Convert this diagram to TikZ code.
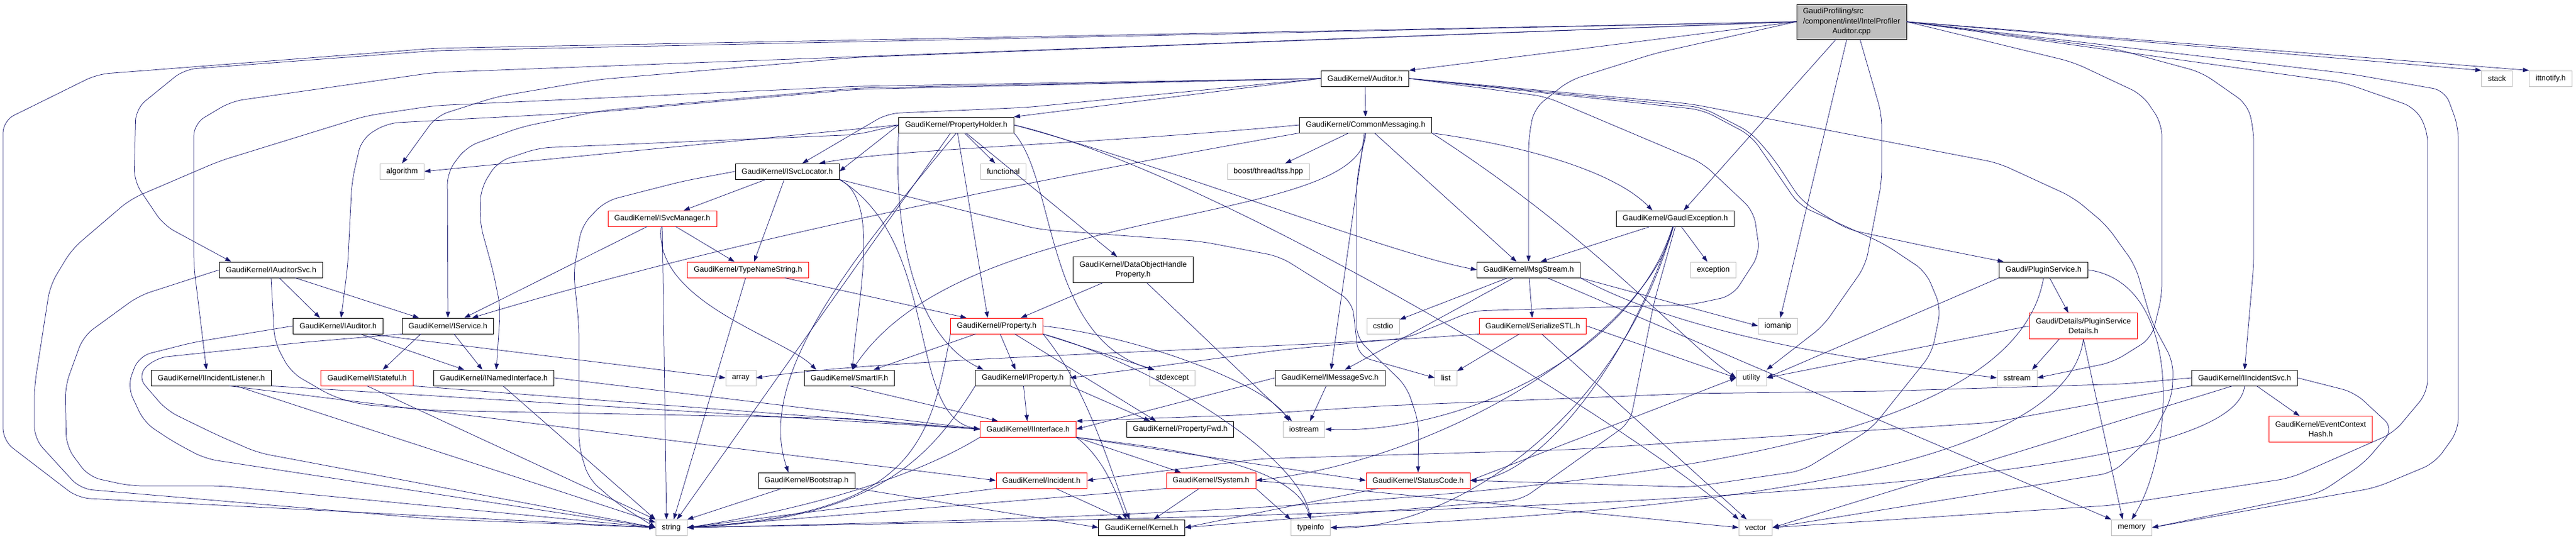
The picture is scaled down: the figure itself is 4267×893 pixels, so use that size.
\documentclass[tikz,border=0pt]{standalone}
\usepackage{fontspec}
\setmainfont{Liberation Sans}
\usepackage{tikz}
\usetikzlibrary{arrows.meta}
\definecolor{edgeblue}{HTML}{191970}
\definecolor{sysgray}{HTML}{BFBFBF}
\tikzset{
	hdr/.style={draw=black, line width=0.8pt, inner xsep=10.5pt, inner ysep=0pt, minimum height=26pt, font=\fontsize{12.7}{16.3}\selectfont, align=center},
	redhdr/.style={hdr, draw=red},
	syshdr/.style={hdr, draw=sysgray},
	roothdr/.style={hdr, fill=sysgray, minimum height=58pt, inner ysep=1pt},
	twoline/.style={minimum height=43pt},
	incl/.style={draw=edgeblue, line width=0.75pt, -{Triangle[length=10pt,width=7pt]}},
	detour/.style={incl, rounded corners=20pt},
}
\begin{document}
\begin{tikzpicture}[x=1pt,y=-1pt]
		\useasboundingbox (0,0) rectangle (4267,893);
		\node[roothdr](root) at (3067,36) {\begin{tabular}{@{}l@{}}GaudiProfiling/src\\/component/intel/IntelProfiler\\\multicolumn{1}{@{}c@{}}{Auditor.cpp}\end{tabular}};
		\node[hdr](auditor) at (2261,130) {GaudiKernel/Auditor.h};
		\node[syshdr](stack) at (4136,130) {stack};
		\node[syshdr](ittnotify) at (4225,130) {ittnotify.h};
		\node[hdr](propholder) at (1584,207) {GaudiKernel/PropertyHolder.h};
		\node[hdr](commonmsg) at (2262,207) {GaudiKernel/CommonMessaging.h};
		\node[syshdr](algorithm) at (666,284) {algorithm};
		\node[hdr](isvcloc) at (1304,284) {GaudiKernel/ISvcLocator.h};
		\node[syshdr](functional) at (1662,284) {functional};
		\node[syshdr](tss) at (2101,284) {boost/thread/tss.hpp};
		\node[redhdr](isvcman) at (1097,362) {GaudiKernel/ISvcManager.h};
		\node[hdr](gexc) at (2775,362) {GaudiKernel/GaudiException.h};
		\node[hdr](iauditorsvc) at (449,447) {GaudiKernel/IAuditorSvc.h};
		\node[redhdr](typename) at (1239,447) {GaudiKernel/TypeNameString.h};
		\node[hdr,twoline](dohp) at (1877,447) {GaudiKernel/DataObjectHandle\\Property.h};
		\node[hdr](msgstream) at (2532,447) {GaudiKernel/MsgStream.h};
		\node[syshdr](exception) at (2838,447) {exception};
		\node[hdr](pluginsvc) at (3385,447) {Gaudi/PluginService.h};
		\node[hdr](iauditor) at (560,540) {GaudiKernel/IAuditor.h};
		\node[hdr](iservice) at (742,540) {GaudiKernel/IService.h};
		\node[redhdr](property) at (1651,540) {GaudiKernel/Property.h};
		\node[syshdr](cstdio) at (2291,540) {cstdio};
		\node[redhdr](serialstl) at (2539,540) {GaudiKernel/SerializeSTL.h};
		\node[syshdr](iomanip) at (2945,540) {iomanip};
		\node[redhdr,twoline](psdetails) at (3451,540) {Gaudi/Details/PluginService\\Details.h};
		\node[hdr](ilistener) at (350,626) {GaudiKernel/IIncidentListener.h};
		\node[redhdr](istateful) at (608,626) {GaudiKernel/IStateful.h};
		\node[hdr](inamed) at (818,626) {GaudiKernel/INamedInterface.h};
		\node[syshdr](array) at (1227,626) {array};
		\node[hdr](smartif) at (1407,626) {GaudiKernel/SmartIF.h};
		\node[hdr](iproperty) at (1694,626) {GaudiKernel/IProperty.h};
		\node[syshdr](stdexcept) at (1942,626) {stdexcept};
		\node[hdr](imsgsvc) at (2203,626) {GaudiKernel/IMessageSvc.h};
		\node[syshdr](list) at (2395,626) {list};
		\node[syshdr](utility) at (2901,626) {utility};
		\node[syshdr](sstream) at (3341,626) {sstream};
		\node[hdr](iincsvc) at (3718,626) {GaudiKernel/IIncidentSvc.h};
		\node[redhdr](iinterface) at (1703,711) {GaudiKernel/IInterface.h};
		\node[hdr](propfwd) at (1955,711) {GaudiKernel/PropertyFwd.h};
		\node[syshdr](iostream) at (2160,711) {iostream};
		\node[redhdr,twoline](evhash) at (3844,711) {GaudiKernel/EventContext\\Hash.h};
		\node[hdr](bootstrap) at (1336,796) {GaudiKernel/Bootstrap.h};
		\node[redhdr](incident) at (1725,796) {GaudiKernel/Incident.h};
		\node[redhdr](system) at (2006,796) {GaudiKernel/System.h};
		\node[redhdr](statuscode) at (2349,796) {GaudiKernel/StatusCode.h};
		\node[syshdr](string) at (1112,874) {string};
		\node[hdr](kernel) at (1891,874) {GaudiKernel/Kernel.h};
		\node[syshdr](typeinfo) at (2171,874) {typeinfo};
		\node[syshdr](vector) at (2908,874) {vector};
		\node[syshdr](memory) at (3531,874) {memory};
		
		\draw[incl] (root.west)--(auditor.north east);
		\draw[detour] (root.west)--(720,80)--(161,123)--(5,200)--(5,730)--(129,825)--(string.west);
		\draw[detour] (root.west)--(720,84)--(305,115)--(225,180)--(222,300)--(271,373)--([xshift=-66pt]iauditorsvc.north);
		\draw[detour] (root.west)--(720,120)--(383,168)--(321,205)--(321,440)--([xshift=-8pt]ilistener.north);
		\draw[detour] (root.west)--(1420,95)--(989,132)--(824,160)--(723,192)--(algorithm.north);
		\draw[detour] (root.west)--(2743,88)--(2600,133)--(2541,180)--(2532,230)--(msgstream.north);
		\draw[incl] ([xshift=-26pt]root.south)--([xshift=14pt]gexc.north);
		\draw[incl] ([xshift=-8pt]root.south)--([xshift=4pt]iomanip.north);
		\draw[detour] ([xshift=14pt]root.south)--(3117,190)--(3117,300)--(3090,440)--(3020,540)--(utility.north east);
		\draw[incl] (root.east)--(stack.north west);
		\draw[incl] (root.east)--(ittnotify.north west);
		\draw[detour] (root.east)--(3891,122)--(4050,150)--(4072,210)--(4072,713)--(4033,767)--(3935,808)--(memory.east);
		\draw[detour] (root.east)--(3882,137)--(4000,178)--(4021,215)--(4021,650)--(3965,717)--(3794,792)--(3500,837)--(vector.east);
		\draw[detour] (root.east)--(3500,80)--(3647,120)--(3723,173)--(3733,215)--(3733,440)--(iincsvc.north);
		\draw[detour] (root.east)--(3319,75)--(3434,103)--(3549,157)--(3581,205)--(3581,490)--(3564,560)--(3500,600)--(sstream.east);
		
		\draw[incl] (auditor)--(commonmsg);
		\draw[incl] (auditor.west)--(propholder.north east);
		\draw[detour] (auditor.west)--(1700,178)--(1470,188)--([xshift=25pt]isvcloc.north);
		\draw[detour] (auditor.west)--(1420,148)--(998,185)--(641,204)--(599,230)--(583,300)--(576,440)--([xshift=5pt]iauditor.north);
		\draw[detour] (auditor.west)--(1420,146)--(998,183)--(865,210)--(773,243)--(741,285)--(iservice.north);
		\draw[detour] (auditor.west)--(1420,143)--(720,175)--(606,192)--(363,267)--(216,330)--(119,413)--(83,473)--(57,640)--(57,727)--(133,810)--(720,860)--(string.west);
		\draw[detour] (auditor.east)--(2820,178)--(2901,220)--(2938,263)--(2984,333)--(3060,380)--(3200,410)--([xshift=-66pt]pluginsvc.north);
		\draw[detour] (auditor.east)--(2820,182)--(2901,225)--(2980,340)--(3121,404)--(3190,450)--(3215,510)--(3200,585)--(3100,710)--(2985,780)--(2800,807)--(statuscode.east);
		\draw[detour] (auditor.east)--(2800,172)--(3310,270)--(3434,327)--(3489,373)--(3537,440)--(3564,533)--(3600,600)--(3598,657)--(3564,723)--(3500,783)--(vector.east);
		\draw[detour] (auditor.east)--(2560,160)--(2820,270)--(2905,350)--(2915,420)--(2870,490)--(2800,505)--(2440,515)--(2330,560)--(2120,580)--(iproperty.east);
		
		\draw[incl] (commonmsg)--(tss);
		\draw[incl] (commonmsg)--([xshift=-20pt]msgstream.north);
		\draw[incl] (commonmsg.south east) .. controls (2550,245) and (2680,290) .. ([xshift=-38pt]gexc.north);
		\draw[incl] (commonmsg.west) .. controls (1800,240) and (1500,245) .. ([xshift=53pt]isvcloc.north);
		\draw[incl] (commonmsg.south west) .. controls (1700,300) and (1200,400) .. ([xshift=40pt]iservice.north);
		\draw[incl] (commonmsg)--(imsgsvc);
		\draw[incl] (commonmsg.south) .. controls (2260,380) and (1600,330) .. ([xshift=5pt]smartif.north);
		\draw[detour] (commonmsg.south)--(2247,300)--(2247,560)--(2330,640)--(2350,700)--(statuscode.north);
		\draw[incl] (commonmsg.south east) .. controls (2650,400) and (2780,560) .. (utility.west);
		
		\draw[incl] (propholder.west)--(algorithm.east);
		\draw[incl] (propholder)--(functional);
		\draw[incl] (propholder.west)--(isvcloc.east);
		\draw[detour] (propholder.west)--(1420,223)--(893,245)--(824,268)--(796,313)--(795,370)--(817,450)--(829,510)--([xshift=4pt]inamed.north);
		\draw[incl] (propholder)--(dohp);
		\draw[incl] (propholder.south) .. controls (1420,420) and (1250,620) .. ([xshift=-30pt]bootstrap.north);
		\draw[incl] (propholder)--([xshift=-15pt]property.north);
		\draw[incl] (propholder.south west) .. controls (1480,400) and (1520,560) .. ([xshift=-65pt]iproperty.north);
		\draw[incl] (propholder.south east) .. controls (1750,300) and (1730,560) .. ([xshift=-30pt]stdexcept.north);
		\draw[incl] (propholder)--(string);
		\draw[incl] (propholder.east) .. controls (1950,280) and (2300,420) .. (msgstream.west);
		\draw[incl] (propholder.east) .. controls (2000,280) and (2700,700) .. (vector.north west);
		
		\draw[incl] (isvcloc)--(isvcman);
		\draw[incl] (isvcloc)--([xshift=10pt]typename.north);
		\draw[detour] (isvcloc.west)--(1132,300)--(1003,333)--(964,373)--(950,450)--(959,540)--(959,740)--(975,793)--(1021,833)--(string.west);
		\draw[incl] (isvcloc.south east) .. controls (1460,330) and (1420,500) .. ([xshift=5pt]smartif.north);
		\draw[incl] (isvcloc.south east) .. controls (1560,400) and (1500,690) .. (iinterface.west);
		\draw[detour] (isvcloc.south east)--(1721,380)--(1990,400)--(2120,425)--(2240,500)--(2250,590)--(list.west);
		
		\draw[incl] ([xshift=-25pt]isvcman.south)--([xshift=27pt]iservice.north);
		\draw[incl] (isvcman)--(typename);
		\draw[incl] (isvcman.south)--([xshift=-8pt]string.north);
		\draw[incl] (isvcman) .. controls (1080,500) and (1300,560) .. ([xshift=-55pt]smartif.north);
		\draw[incl] (typename)--(string);
		\draw[incl] (typename)--([xshift=-50pt]property.north);
		\draw[incl] (dohp)--([xshift=40pt]property.north);
		\draw[incl] (dohp)--([xshift=-20pt]iostream.north);
		
		\draw[incl] (gexc)--([xshift=20pt]msgstream.north);
		\draw[incl] (gexc)--(exception);
		\draw[incl] (gexc) .. controls (2730,550) and (2400,760) .. (system.east);
		\draw[detour] (gexc.south)--(2740,500)--(2700,700)--(2520,828)--(kernel.east);
		\draw[incl] (gexc) .. controls (2700,600) and (2550,790) .. (statuscode.east);
		\draw[incl] (gexc) .. controls (2700,600) and (2400,720) .. (iostream.east);
		\draw[incl] (gexc) .. controls (2680,700) and (2400,880) .. (typeinfo.east);
		
		\draw[incl] (msgstream)--(imsgsvc);
		\draw[incl] (msgstream)--(serialstl);
		\draw[incl] (msgstream)--(cstdio);
		\draw[incl] (msgstream.south east)--(iomanip.west);
		\draw[incl] (msgstream.south east) .. controls (2800,560) and (3100,600) .. (sstream.west);
		\draw[incl] (msgstream)--(memory.north west);
		\draw[incl] (serialstl)--(list);
		\draw[incl] (serialstl.south west) .. controls (2100,580) and (1500,590) .. (array.east);
		\draw[incl] (serialstl.east)--(utility.west);
		\draw[incl] (serialstl)--(vector);
		\draw[incl] (imsgsvc)--([xshift=10pt]iostream.north);
		\draw[incl] (imsgsvc.west)--(iinterface.east);
		
		\draw[incl] (iauditorsvc)--([xshift=-30pt]iauditor.north);
		\draw[incl] ([xshift=40pt]iauditorsvc.south)--([xshift=-48pt]iservice.north);
		\draw[detour] (iauditorsvc.west)--(230,490)--(138,557)--(108,640)--(110,740)--(147,790)--(216,805)--(367,805)--(string.west);
		\draw[detour] (iauditorsvc.south)--(455,567)--(482,617)--(551,657)--(597,670)--(720,680)--(1400,693)--(iinterface.west);
		\draw[incl] ([xshift=37pt]iauditor.south)--([xshift=-49pt]inamed.north);
		\draw[detour] (iauditor.west)--(321,567)--(230,590)--(211,640)--(239,700)--(289,733)--(340,760)--(string.west);
		\draw[incl] ([xshift=50pt]iauditor.south)--(array.west);
		\draw[incl] ([xshift=-45pt]iservice.south)--([xshift=26pt]istateful.north);
		\draw[incl] ([xshift=10pt]iservice.south)--([xshift=-19pt]inamed.north);
		\draw[detour] (iservice.south west)--(505,567)--(257,593)--(227,623)--(276,680)--(358,720)--(427,750)--(string.west);
		\draw[incl] ([xshift=30pt]ilistener.south)--(incident.west);
		\draw[incl] (ilistener.south east)--(iinterface.west);
		\draw[incl] (ilistener)--(string);
		\draw[incl] (istateful.south east)--(iinterface.west);
		\draw[incl] (istateful.south)--(string.north west);
		\draw[incl] (inamed.east)--(iinterface.west);
		\draw[incl] (inamed)--(string.north west);
		\draw[incl] (smartif.south)--([xshift=-50pt]iinterface.north);
		
		\draw[incl] ([xshift=-35pt]property.south)--([xshift=40pt]smartif.north);
		\draw[incl] (property)--([xshift=-12pt]iproperty.north);
		\draw[incl] (property.south east)--([xshift=-30pt]stdexcept.north);
		\draw[incl] ([xshift=30pt]property.south)--([xshift=-40pt]propfwd.north);
		\draw[incl] (property.south west) .. controls (1540,750) and (1500,850) .. (string.east);
		\draw[incl] (property.south east) .. controls (1800,640) and (1840,780) .. ([xshift=-20pt]kernel.north);
		\draw[incl] (property.south east) .. controls (1900,600) and (2150,750) .. (typeinfo.north);
		\draw[incl] (property.east) .. controls (1900,560) and (2100,640) .. ([xshift=-25pt]iostream.north);
		\draw[incl] (iproperty)--(iinterface);
		\draw[incl] (iproperty.south east)--([xshift=-50pt]propfwd.north);
		\draw[incl] (iproperty.south west) .. controls (1540,760) and (1450,860) .. (string.east);
		
		\draw[incl] (bootstrap)--(string.north east);
		\draw[incl] (bootstrap)--(kernel.west);
		\draw[incl] (iinterface.south east)--([xshift=-50pt]system.north);
		\draw[incl] (iinterface.south east) .. controls (1830,760) and (1850,820) .. ([xshift=-25pt]kernel.north);
		\draw[incl] (iinterface.south east)--(statuscode.west);
		\draw[incl] (iinterface.south east) .. controls (1900,740) and (2140,760) .. (typeinfo.north);
		\draw[incl] (iinterface.south west) .. controls (1500,800) and (1300,850) .. (string.east);
		\draw[incl] ([xshift=24pt]incident.south)--([xshift=-30pt]kernel.north);
		\draw[incl] (incident.south west)--(string.east);
		\draw[incl] (system)--([xshift=20pt]kernel.north);
		\draw[incl] (system.south west)--(string.east);
		\draw[incl] (system.east)--(vector.west);
		\draw[incl] (system.south east)--(typeinfo.north west);
		\draw[incl] (statuscode)--(kernel.east);
		\draw[incl] (statuscode.east)--(utility.west);
		
		\draw[incl] ([xshift=10pt]pluginsvc.south)--([xshift=-25pt]psdetails.north);
		\draw[incl] (pluginsvc.south west)--(utility.east);
		\draw[incl] (pluginsvc.south) .. controls (3330,780) and (2500,845) .. (string.east);
		\draw[incl] (pluginsvc.east) .. controls (3620,470) and (3600,750) .. (memory.north);
		\draw[incl] ([xshift=-40pt]psdetails.south)--([xshift=25pt]sstream.north);
		\draw[incl] (psdetails.west)--(utility.east);
		\draw[incl] (psdetails.south) .. controls (3420,800) and (2700,850) .. (typeinfo.east);
		\draw[incl] (psdetails.south)--([xshift=-15pt]memory.north);
		
		\draw[incl] ([xshift=20pt]iincsvc.south)--([xshift=-35pt]evhash.north);
		\draw[detour] (iincsvc.east)--(3900,650)--(3965,710)--(3916,767)--(3842,817)--(memory.east);
		\draw[incl] ([xshift=-20pt]iincsvc.south)--(vector.east);
		\draw[incl] (iincsvc.south) .. controls (3700,820) and (2500,850) .. (string.east);
		\draw[detour] (iincsvc.west)--(3520,636)--(3120,648)--(2800,652)--(2300,672)--(2048,688)--(iinterface.north east);
		\draw[detour] (iincsvc.south west)--(3300,700)--(2600,745)--(2090,760)--(incident.east);
	\end{tikzpicture}
\end{document}
